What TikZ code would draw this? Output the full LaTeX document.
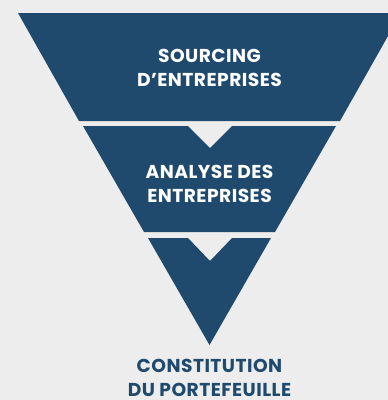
\documentclass[tikz,border=0pt]{standalone}
\usepackage{fontspec}
\setmainfont{Poppins}[LetterSpace=2.5]
\usepackage{tikz}

\definecolor{funnelblue}{HTML}{1F4A6E}
\definecolor{backgrey}{HTML}{ECEDEC}

\tikzset{
	steplabel/.style={align=center, font=\bfseries\fontsize{14}{18}\selectfont, inner sep=0pt},
}

\begin{document}
\begin{tikzpicture}[x=0.75pt, y=-0.75pt]
		\fill[backgrey] (0,0) rectangle (388,400);
		\useasboundingbox (0,0) rectangle (388,400);
		\clip (0,0) rectangle (388,400);
		% funnel bands
		\fill[funnelblue] (18,13) -- (401,13) -- (340,121) -- (79,121) -- cycle;
		\fill[funnelblue] (83,126) -- (188,126) -- (210,148) -- (232,126) -- (336,126) -- (275,232) -- (144,232) -- cycle;
		\fill[funnelblue] (148,238) -- (188,238) -- (210,261) -- (232,238) -- (271,238) -- (209.5,345) -- cycle;
		\node[steplabel, text=white] (sourcing) at (209.5,67.5) {SOURCING\\D’ENTREPRISES};
		\node[steplabel, text=white] (analyse) at (209.5,183.5) {ANALYSE DES\\ENTREPRISES};
		\node[steplabel, text=funnelblue] (portefeuille) at (209.5,378) {CONSTITUTION\\DU PORTEFEUILLE};
	\end{tikzpicture}
\end{document}
